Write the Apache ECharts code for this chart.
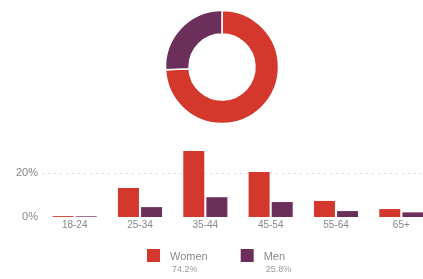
<!DOCTYPE html>
<html lang="en">
<head>
    <meta charset="UTF-8">
    <title>Gender and age</title>
    <script src="https://cdn.jsdelivr.net/npm/echarts@6/dist/echarts.min.js"></script>
    <style>
        html, body { margin: 0; padding: 0; background: #fff; }
    </style>
</head>
<body>

<div id="main" style="width:423px;height:279px"></div>
<script type="text/javascript">

    var ageGroups = ['18-24', '25-34', '35-44', '45-54', '55-64', '65+'];
    var women = [0.4, 13.2, 30, 20.5, 7.3, 3.6];
    var men = [0.3, 4.5, 9, 6.8, 2.7, 2.1];
    var genderNames = ['Women', 'Men'];
    var genderShare = [74.2, 25.8];
    var yTicks = [0, 20];

    var red = '#d4382c';
    var purple = '#6c2f5c';

    var option;

    window.onload = function () {
        var chartDom = document.getElementById('main');
        var myChart = echarts.init(chartDom, null, {renderer: 'canvas'});

        option = {
            animation: false,
            textStyle: {fontFamily: 'Liberation Sans'},
            color: [red, purple],
            legend: {
                data: genderNames,
                left: 142,
                top: 233,
                itemWidth: 13,
                itemHeight: 13,
                itemGap: 33,
                icon: 'rect',
                formatter: function (name) {
                    var i = genderNames.indexOf(name);
                    return '{e| }\n{n|' + name + '}\n{p|' + genderShare[i] + '%}';
                },
                textStyle: {
                    rich: {
                        e: {lineHeight: 16, fontSize: 9},
                        n: {lineHeight: 13, fontSize: 11, color: '#888', padding: [0, 0, 0, 5]},
                        p: {lineHeight: 13, fontSize: 9, color: '#999', padding: [0, 0, 0, 7]}
                    }
                }
            },
            grid: {
                left: 42,
                width: 392,
                top: 148.8,
                bottom: 62,
                outerBoundsMode: 'none'
            },
            xAxis: {
                type: 'category',
                data: ageGroups,
                axisLine: {show: false},
                axisTick: {show: false},
                axisLabel: {color: '#888', fontSize: 10, margin: 3}
            },
            yAxis: {
                type: 'value',
                min: 0,
                max: 31,
                interval: 20,
                axisLabel: {
                    color: '#888',
                    fontSize: 11,
                    margin: 4,
                    showMaxLabel: false,
                    formatter: function (v) {
                        return yTicks.indexOf(v) >= 0 ? v + '%' : '';
                    }
                },
                splitLine: {
                    showMinLine: false,
                    showMaxLine: false,
                    lineStyle: {color: '#ddd', type: [2, 4]}
                }
            },
            series: [
                {
                    name: 'Women',
                    type: 'bar',
                    data: women,
                    barWidth: 21,
                    barGap: '10%',
                    itemStyle: {color: red}
                },
                {
                    name: 'Men',
                    type: 'bar',
                    data: men,
                    barWidth: 21,
                    itemStyle: {color: purple}
                },
                {
                    name: 'Gender',
                    type: 'pie',
                    center: [222, 67],
                    radius: [33, 56.5],
                    startAngle: 90,
                    label: {show: false},
                    labelLine: {show: false},
                    itemStyle: {borderColor: '#fff', borderWidth: 1.5},
                    data: genderNames.map(function (n, i) {
                        return {name: n, value: genderShare[i], itemStyle: {color: i === 0 ? red : purple}};
                    })
                }
            ]
        };

        myChart.setOption(option, true);
    }

</script>

</body>
</html>
